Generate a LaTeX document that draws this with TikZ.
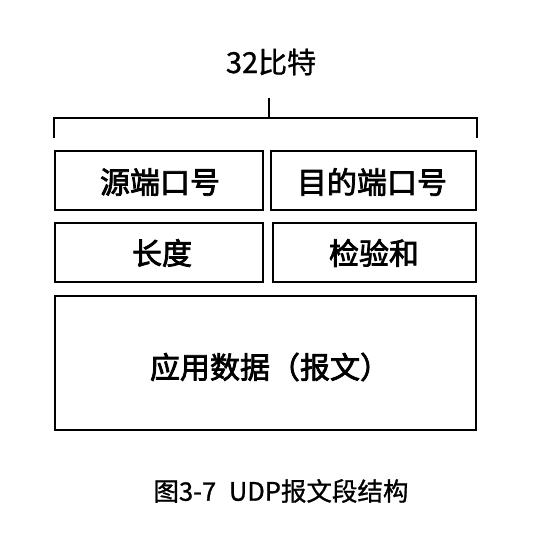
\documentclass[tikz,border=0pt]{standalone}
\usepackage{fontspec}
\newfontfamily\cjk[FakeBold=1]{Noto Sans CJK SC}
\newfontfamily\cjkheavy[FakeBold=2.5]{Noto Sans CJK SC}
\begin{document}
\begin{tikzpicture}[x=1pt,y=-1pt,
  field/.style={draw=black,line width=2.6pt,inner sep=0pt},
  fieldtext/.style={font=\cjkheavy\fontsize{30}{33}\selectfont},
  rule/.style={draw=black,line width=2.4pt},
  titletext/.style={font=\cjk\fontsize{29}{32}\selectfont},
  captext/.style={font=\cjk\fontsize{25.5}{28}\selectfont}]
\useasboundingbox (0,0) rectangle (542,536);
% width label and bracket
\node[titletext] (title) at (271,62) {32比特};
\coordinate (bl) at (54,138);
\coordinate (br) at (477,138);
\coordinate (btop) at (269,98);
\draw[rule] (bl) |- (br |- 0,118) -- (br);
\draw[rule] (btop) -- (btop |- 0,118);
% header fields
\draw[field] (55,151) rectangle (263,210);
\draw[field] (271,151) rectangle (476,210);
\draw[field] (55,223) rectangle (263,282);
\draw[field] (273,223) rectangle (476,282);
\draw[field] (55,296) rectangle (476,430);
\node[fieldtext] (src) at (160,182) {源端口号};
\node[fieldtext] (dst) at (372,182) {目的端口号};
\node[fieldtext] (len) at (162,253) {长度};
\node[fieldtext] (sum) at (374,253) {检验和};
\node[fieldtext] (data) at (270,367) {应用数据（报文）};
% caption
\node[captext] (cap) at (281,491) {图3-7\hspace{0.5em}UDP报文段结构};
\end{tikzpicture}
\end{document}
